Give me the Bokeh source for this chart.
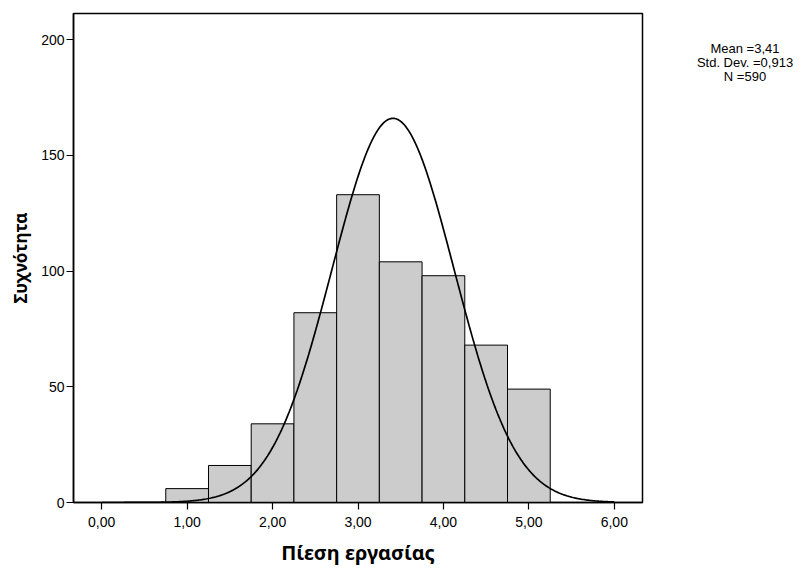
import numpy as np
from bokeh.plotting import figure
from bokeh.models import FixedTicker, Range1d, Div
from bokeh.layouts import row
from bokeh.embed import file_html
from bokeh.resources import INLINE

# Data
bin_left = [0.75, 1.25, 1.75, 2.25, 2.75, 3.25, 3.75, 4.25, 4.75]
bin_right = [1.25, 1.75, 2.25, 2.75, 3.25, 3.75, 4.25, 4.75, 5.25]
counts = [6, 16, 34, 82, 133, 104, 98, 68, 49]
mean_val = 3.41
std_val = 0.913
n_val = 590
# Normal curve as drawn in the reference (peak height and spread read from it)
curve_peak = 166.0
curve_spread = 0.715
x_ticks = [0, 1, 2, 3, 4, 5, 6]
x_tick_labels = ["0,00", "1,00", "2,00", "3,00", "4,00", "5,00", "6,00"]
y_ticks = [0, 50, 100, 150, 200]

p = figure(width=644, height=568, output_backend="svg", toolbar_location=None,
           x_range=Range1d(-0.33, 6.33), y_range=Range1d(0, 211.3))
p.min_border_left = 73
p.min_border_right = 2
p.min_border_top = 13
p.min_border_bottom = 66
p.background_fill_color = "white"
p.border_fill_color = "white"
p.outline_line_color = "black"
p.outline_line_width = 1.5
p.grid.visible = False

p.quad(left=bin_left, right=bin_right, bottom=0, top=counts,
       fill_color="#cccccc", line_color="black", line_width=1)

xs = np.linspace(0.0, 6.0, 400)
ys = curve_peak * np.exp(-0.5 * ((xs - mean_val) / curve_spread) ** 2)
p.line(xs, ys, line_color="black", line_width=1.7)

for ax in (p.xaxis[0], p.yaxis[0]):
    ax.axis_line_color = "black"
    ax.axis_line_width = 1.5
    ax.major_tick_line_color = "black"
    ax.major_tick_line_width = 1.2
    ax.major_tick_out = 7
    ax.major_tick_in = 0
    ax.minor_tick_line_color = None
    ax.major_label_text_font = "Liberation Sans"
    ax.major_label_text_font_size = "14px"
    ax.major_label_text_color = "black"
    ax.axis_label_text_font = "Noto Sans"
    ax.axis_label_text_font_style = "bold"
    ax.axis_label_text_color = "black"

p.xaxis.ticker = FixedTicker(ticks=x_ticks)
p.xaxis.major_label_overrides = {t: l for t, l in zip(x_ticks, x_tick_labels)}
p.xaxis.major_label_standoff = 7
p.xaxis.axis_label = "Πίεση εργασίας"
p.xaxis.axis_label_text_font_size = "20px"
p.xaxis.axis_label_standoff = 9

p.yaxis.ticker = FixedTicker(ticks=y_ticks)
p.yaxis.major_label_standoff = 2
p.yaxis.axis_label = "Συχνότητα"
p.yaxis.axis_label_text_font_size = "17px"
p.yaxis.axis_label_standoff = 6

stats_text = "Mean =3,41<br>Std. Dev. =0,913<br>N =590"
stats = Div(text=stats_text, width=161, height=568, margin=0,
            styles={"text-align": "center", "font-family": "Liberation Sans",
                    "font-size": "13px", "line-height": "14px",
                    "padding-top": "42px", "padding-left": "41px",
                    "box-sizing": "border-box", "color": "black",
                    "background-color": "white"})

layout = row(p, stats, spacing=0)
open("out.html", "w").write(file_html(layout, INLINE))
